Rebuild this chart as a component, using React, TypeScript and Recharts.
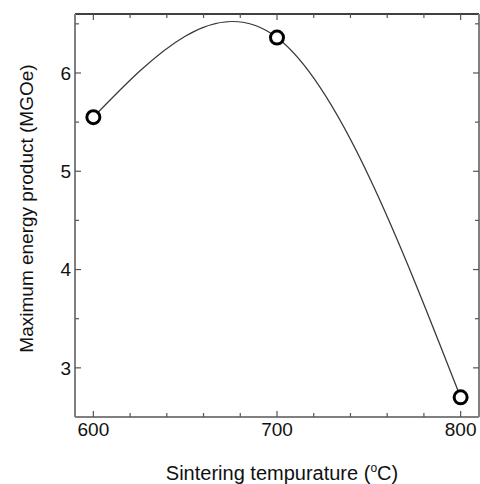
import { LineChart, Line, XAxis, YAxis } from "recharts"

const temps = [600, 700, 800]
const energy = [5.55, 6.36, 2.7]

const xMajor = [600, 700, 800]
const xMinor = [600, 620, 640, 660, 680, 700, 720, 740, 760, 780, 800]
const yMajor = [3, 4, 5, 6]
const yMinor = [3, 3.5, 4, 4.5, 5, 5.5, 6, 6.5]

const data = temps.map((t, i) => ({ temp: t, bh: energy[i] }))

const FONT = "'Liberation Sans', Arial, Helvetica, sans-serif"
const AXIS_GRAY = "#808080"
const TICK_GRAY = "#555"

const XDOMAIN: [number, number] = [590, 810]
const YDOMAIN: [number, number] = [2.5, 6.6]

function Ring(props: { cx?: number; cy?: number }) {
  const { cx, cy } = props
  if (cx == null || cy == null) return null
  return <circle cx={cx} cy={cy} r={6.5} fill="#fff" stroke="#000" strokeWidth={3} />
}

// inward tick mark drawn at the position the axis gives for each tick
function Mark(props: any) {
  const { x, y, payload, side, major } = props
  if (x == null || y == null) return null
  const len = major.includes(payload?.value) ? 6 : 4
  const d = { bottom: [0, -len], top: [0, len], left: [len, 0], right: [-len, 0] }[side as string] || [0, 0]
  return <line x1={x} y1={y} x2={x + d[0]} y2={y + d[1]} stroke={TICK_GRAY} strokeWidth={1.2} />
}

// invisible series so the frame axes get a domain and are drawn
const hidden = (xId: string, yId: string) => (
  <Line
    xAxisId={xId}
    yAxisId={yId}
    dataKey="bh"
    stroke="none"
    dot={false}
    activeDot={false}
    legendType="none"
    isAnimationActive={false}
  />
)

export default function App() {
  return (
    <div style={{ position: "absolute", left: 0, top: 0, background: "#fff" }}>
      <LineChart width={480} height={484} data={data} margin={{ top: 14, right: 1, bottom: 0, left: 0 }}>
        <XAxis
          dataKey="temp"
          type="number"
          domain={XDOMAIN}
          allowDataOverflow
          ticks={xMajor}
          interval={0}
          height={67}
          tickSize={0}
          tickMargin={6}
          axisLine={{ stroke: AXIS_GRAY, strokeWidth: 2 }}
          tickLine={false}
          tick={{ fill: "#111", fontSize: 19, fontFamily: FONT }}
          label={{
            content: (p: any) => {
              const vb = p.viewBox || {}
              return (
                <text x={vb.x + vb.width / 2 + 5} y={480} textAnchor="middle" fontSize={20} fontFamily={FONT} fill="#111">
                  Sintering tempurature (
                  <tspan fontSize={12} dy={-8}>o</tspan>
                  <tspan dy={8}>C)</tspan>
                </text>
              )
            },
          }}
        />
        <XAxis
          xAxisId="b"
          dataKey="temp"
          type="number"
          domain={XDOMAIN}
          allowDataOverflow
          mirror
          height={1}
          ticks={xMinor}
          interval={0}
          tickSize={0}
          tickMargin={0}
          tickLine={false}
          axisLine={false}
          tick={<Mark side="bottom" major={xMajor} />}
        />
        <XAxis
          xAxisId="t"
          dataKey="temp"
          orientation="top"
          type="number"
          domain={XDOMAIN}
          allowDataOverflow
          mirror
          height={1}
          ticks={xMinor}
          interval={0}
          tickSize={0}
          tickMargin={0}
          tickLine={false}
          axisLine={{ stroke: "#000", strokeWidth: 1.5 }}
          tick={<Mark side="top" major={xMajor} />}
        />
        <YAxis
          type="number"
          domain={YDOMAIN}
          allowDataOverflow
          ticks={yMajor}
          interval={0}
          width={75}
          tickSize={0}
          tickMargin={4}
          axisLine={{ stroke: AXIS_GRAY, strokeWidth: 2 }}
          tickLine={false}
          tick={{ fill: "#111", fontSize: 19, fontFamily: FONT }}
          label={{
            content: (p: any) => {
              const vb = p.viewBox || {}
              const cy = vb.y + vb.height / 2 - 7
              return (
                <text
                  x={33}
                  y={cy}
                  transform={`rotate(-90, 33, ${cy})`}
                  textAnchor="middle"
                  fontSize={19}
                  fontFamily={FONT}
                  fill="#111"
                >
                  Maximum energy product (MGOe)
                </text>
              )
            },
          }}
        />
        <YAxis
          yAxisId="l"
          type="number"
          domain={YDOMAIN}
          allowDataOverflow
          mirror
          width={1}
          ticks={yMinor}
          interval={0}
          tickSize={0}
          tickMargin={0}
          tickLine={false}
          axisLine={false}
          tick={<Mark side="left" major={yMajor} />}
        />
        <YAxis
          yAxisId="r"
          orientation="right"
          type="number"
          domain={YDOMAIN}
          allowDataOverflow
          mirror
          width={1}
          ticks={yMinor}
          interval={0}
          tickSize={0}
          tickMargin={0}
          tickLine={false}
          axisLine={{ stroke: AXIS_GRAY, strokeWidth: 2 }}
          tick={<Mark side="right" major={yMajor} />}
        />
        {hidden("b", "l")}
        {hidden("t", "r")}
        <Line
          type="natural"
          dataKey="bh"
          stroke="#3a3a3a"
          strokeWidth={1.3}
          dot={<Ring />}
          activeDot={false}
          isAnimationActive={false}
        />
      </LineChart>
    </div>
  )
}
